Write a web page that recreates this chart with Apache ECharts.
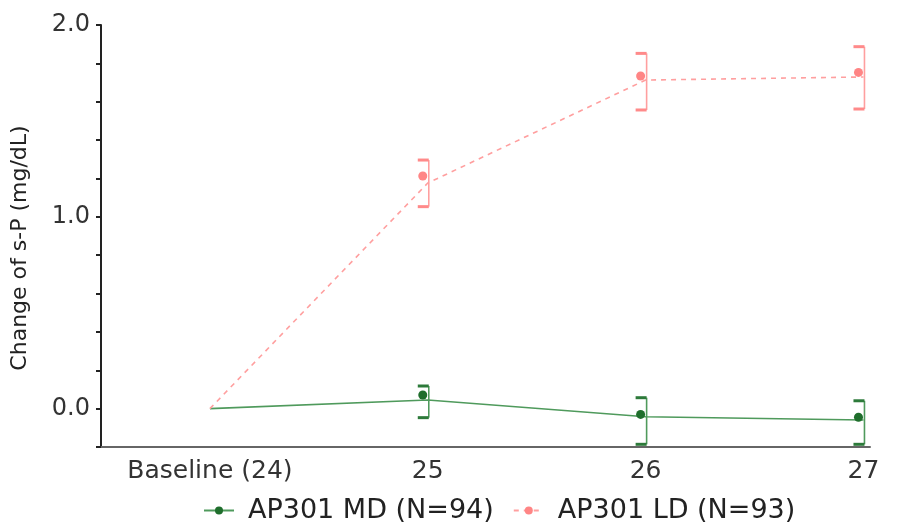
<!DOCTYPE html>
<html>
<head>
<meta charset="utf-8">
<script src="https://cdn.jsdelivr.net/npm/echarts@6/dist/echarts.min.js"></script>
<style>html,body{margin:0;padding:0;background:#fff}#c{width:901px;height:531px}</style>
</head>
<body>
<div id="c"></div>
<script>
// ---- data ----
var categories = ['Baseline (24)', '25', '26', '27'];
var seriesNames = ['AP301 MD (N=94)', 'AP301 LD (N=93)'];
// connecting line values
var mdLine = [0, 0.045, -0.042, -0.059];
var ldLine = [0, 1.176, 1.713, 1.729];
// point estimates (dots)
var mdMean = [null, 0.071, -0.030, -0.045];
var ldMean = [null, 1.213, 1.734, 1.753];
// error bar limits
var mdLow  = [null, -0.047, -0.186, -0.186];
var mdHigh = [null, 0.118, 0.057, 0.041];
var ldLow  = [null, 1.053, 1.557, 1.562];
var ldHigh = [null, 1.296, 1.852, 1.887];
var yTickLabels = [0, 1, 2];

var green = '#1f6e2c', greenLine = '#4f9a5c', greenCap = '#2d7a3a';
var pink = '#ff8585', pinkLine = '#ff9f9f', pinkCap = '#ff8a8a';
var FONT = '"DejaVu Sans", sans-serif';

function pts(arr){ var o=[]; arr.forEach(function(v,i){ if(v!==null) o.push([i,v]); }); return o; }
function bars(lo,hi){ var o=[]; lo.forEach(function(v,i){ if(v!==null) o.push([i,v,hi[i]]); }); return o; }

function errRender(color, capColor){
  return function(params, api){
    var x = api.value(0);
    var pLo = api.coord([x, api.value(1)]);
    var pHi = api.coord([x, api.value(2)]);
    var vx = pLo[0] + 1;
    var capW = 11;
    return {type:'group', children:[
      {type:'line', shape:{x1:vx, y1:pHi[1], x2:vx, y2:pLo[1]}, style:{stroke: color, lineWidth: 1.6}},
      {type:'line', shape:{x1:vx-capW, y1:pHi[1], x2:vx, y2:pHi[1]}, style:{stroke:capColor, lineWidth:3}},
      {type:'line', shape:{x1:vx-capW, y1:pLo[1], x2:vx, y2:pLo[1]}, style:{stroke:capColor, lineWidth:3}}
    ]};
  };
}

var chart = echarts.init(document.getElementById('c'));
chart.setOption({
  animation:false,
  backgroundColor:'#fff',
  grid:{left:101, right:31, top:25, bottom:84, containLabel:false},
  legend:{
    data:seriesNames, bottom:2, left:198, itemGap:19, itemWidth:30, itemHeight:10,
    textStyle:{fontFamily:FONT, fontSize:27, color:'#222', padding:[0,0,0,9]}
  },
  xAxis:{
    type:'value', min:-0.5, max:3.03, interval:0.5,
    splitLine:{show:false}, axisTick:{show:false},
    axisLine:{show:true, onZero:false, lineStyle:{color:'#666', width:2}},
    axisLabel:{
      margin:12, fontFamily:FONT, fontSize:25, color:'#333',
      showMinLabel:false, showMaxLabel:false,
      formatter:function(v){ var r=Math.round(v); return Math.abs(v-r)<1e-6 && r>=0 && r<categories.length ? categories[r] : ''; }
    }
  },
  yAxis:{
    type:'value', min:-0.2, max:2.0, interval:0.2,
    name:'Change of s-P (mg/dL)', nameLocation:'middle', nameRotate:90, nameGap:70,
    nameTextStyle:{fontFamily:FONT, fontSize:22, color:'#222', padding:[0,24,0,0]},
    splitLine:{show:false},
    axisLine:{show:true, onZero:false, lineStyle:{color:'#222', width:2}},
    axisTick:{show:true, inside:false, length:5, lineStyle:{color:'#222', width:2}},
    axisLabel:{
      margin:11, fontFamily:FONT, fontSize:24, color:'#333',
      formatter:function(v){ var r=Math.round(v); return (Math.abs(v-r)<1e-6 && yTickLabels.indexOf(r)>=0) ? r.toFixed(1) : ''; }
    }
  },
  series:[
    {name:seriesNames[0], type:'line', data:pts(mdLine), showSymbol:false, symbol:'circle', symbolSize:9,
     itemStyle:{color:green}, lineStyle:{color:greenLine, width:1.6}, z:3},
    {name:seriesNames[1], type:'line', data:pts(ldLine), showSymbol:false, symbol:'circle', symbolSize:9,
     itemStyle:{color:pink}, lineStyle:{color:pinkLine, width:1.6, type:[5,5]}, z:3},
    {name:seriesNames[0], type:'custom', data:bars(mdLow, mdHigh), renderItem:errRender(greenLine, greenCap), encode:{x:0,y:[1,2]}, z:4},
    {name:seriesNames[1], type:'custom', data:bars(ldLow, ldHigh), renderItem:errRender(pinkLine, pinkCap), encode:{x:0,y:[1,2]}, z:4},
    {name:seriesNames[0], type:'scatter', data:pts(mdMean), symbol:'circle', symbolSize:9, symbolOffset:[-5,0],
     itemStyle:{color:green, opacity:1}, z:5},
    {name:seriesNames[1], type:'scatter', data:pts(ldMean), symbol:'circle', symbolSize:9, symbolOffset:[-5,0],
     itemStyle:{color:pink, opacity:1}, z:5}
  ]
});
</script>
</body>
</html>
